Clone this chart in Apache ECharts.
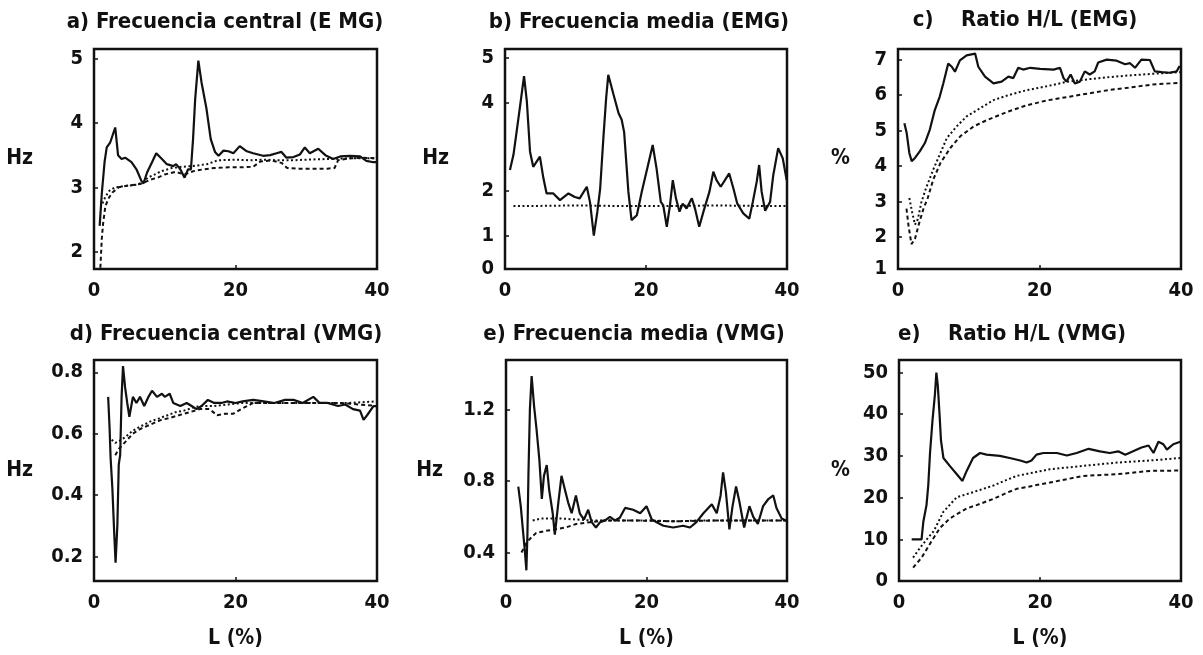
<!DOCTYPE html>
<html><head><meta charset="utf-8">
<script src="https://cdn.jsdelivr.net/npm/echarts@6/dist/echarts.min.js"></script>
<style>html,body{margin:0;padding:0;background:#fff}#c{width:1203px;height:655px}</style>
</head><body><div id="c"></div>
<script>
// ---------- data ----------
const xTicks = [0, 20, 40];

const aYTicks = [2, 3, 4, 5];
const aYLabels = ['2', '3', '4', '5'];
const aSolid = [[0.8,2.4],[1.1,2.9],[1.5,3.4],[1.8,3.62],[2.3,3.7],[3.0,3.93],[3.4,3.5],[3.9,3.44],[4.4,3.46],[5.3,3.39],[6.0,3.28],[6.7,3.1],[7.0,3.06],[7.5,3.23],[8.2,3.39],[8.8,3.53],[9.6,3.44],[10.3,3.36],[11.2,3.33],[11.6,3.36],[12.2,3.28],[12.8,3.15],[13.3,3.28],[13.7,3.28],[14.0,3.75],[14.3,4.37],[14.75,4.97],[15.2,4.63],[15.9,4.22],[16.5,3.75],[17.1,3.55],[17.6,3.49],[18.3,3.57],[19.0,3.56],[19.7,3.53],[20.6,3.64],[21.6,3.56],[22.5,3.53],[23.9,3.49],[24.9,3.5],[25.8,3.53],[26.5,3.55],[27.2,3.46],[28.2,3.47],[29.1,3.51],[29.8,3.62],[30.5,3.53],[31.7,3.6],[32.7,3.5],[33.8,3.44],[34.8,3.48],[36.2,3.49],[37.6,3.48],[38.5,3.41],[39.5,3.39],[40,3.39]];
const aDotted = [[1.2,2.75],[1.6,2.85],[2.2,2.95],[3.0,3.0],[4.5,3.02],[6.0,3.04],[7.0,3.08],[7.6,3.15],[8.6,3.2],[9.5,3.25],[11,3.3],[12.5,3.32],[14,3.33],[16,3.36],[17.5,3.42],[20,3.43],[22,3.42],[24,3.43],[26,3.42],[28,3.42],[30,3.43],[33,3.44],[36,3.45],[40,3.45]];
const aDashed = [[0.9,1.75],[1.1,2.2],[1.3,2.45],[1.6,2.7],[2.0,2.82],[2.6,2.92],[3.5,3.0],[5,3.03],[6.5,3.05],[7.2,3.08],[8,3.12],[9,3.15],[10,3.2],[11.5,3.24],[12.8,3.2],[14,3.25],[15.5,3.28],[17,3.3],[19,3.31],[21,3.31],[22.5,3.32],[23.5,3.4],[25,3.42],[26.5,3.38],[27.3,3.3],[29,3.29],[31,3.29],[33,3.29],[34,3.3],[34.5,3.42],[36,3.45],[38,3.46],[40,3.45]];

const bYTicks = [0.25, 1, 2, 4, 5];
const bYLabels = ['0', '1', '2', '4', '5'];
const bSolid = [[0.7,2.48],[1.2,2.82],[1.65,3.34],[2.1,3.87],[2.7,4.59],[3.1,4.02],[3.55,2.89],[4.0,2.55],[4.95,2.78],[5.45,2.29],[5.9,1.95],[6.85,1.95],[7.8,1.8],[9.0,1.95],[9.9,1.87],[10.6,1.84],[11.6,2.1],[12.05,1.76],[12.6,1.0],[13.1,1.54],[13.5,2.06],[13.95,3.19],[14.35,4.1],[14.65,4.62],[15.4,4.17],[16.1,3.76],[16.55,3.61],[16.9,3.33],[17.5,1.99],[17.95,1.35],[18.7,1.46],[19.4,1.99],[20.35,2.63],[20.95,3.04],[21.5,2.51],[22.1,1.76],[22.45,1.68],[22.95,1.2],[23.4,1.68],[23.8,2.25],[24.25,1.84],[24.75,1.54],[25.2,1.72],[25.75,1.61],[26.5,1.84],[26.95,1.61],[27.55,1.2],[28.15,1.54],[29.0,1.99],[29.55,2.44],[30.0,2.25],[30.6,2.1],[31.2,2.25],[31.8,2.4],[32.4,2.06],[32.95,1.72],[33.8,1.5],[34.65,1.38],[35.15,1.76],[35.7,2.21],[36.05,2.59],[36.4,1.99],[36.9,1.56],[37.6,1.76],[38.05,2.36],[38.75,2.97],[39.4,2.74],[39.95,2.25]];
const bDotted = [[1.2,1.67],[5,1.67],[10,1.68],[15,1.67],[20,1.67],[25,1.67],[30,1.68],[35,1.67],[40,1.67]];
const bDashed = [];

const cYTicks = [1.1, 2, 3, 4, 5, 6, 7];
const cYLabels = ['1', '2', '3', '4', '5', '6', '7'];
const cSolid = [[0.9,5.21],[1.23,4.93],[1.6,4.37],[1.93,4.14],[2.4,4.23],[3.1,4.42],[3.8,4.65],[4.5,5.03],[5.2,5.58],[5.9,5.96],[6.4,6.33],[7.1,6.89],[7.6,6.8],[8.05,6.66],[8.75,6.98],[9.7,7.12],[10.9,7.17],[11.35,6.8],[12.3,6.52],[13.5,6.33],[14.65,6.38],[15.6,6.52],[16.3,6.48],[17.0,6.77],[17.7,6.72],[18.7,6.77],[20.1,6.74],[22.0,6.72],[22.9,6.77],[23.4,6.48],[23.8,6.38],[24.4,6.58],[25.0,6.33],[25.7,6.38],[26.4,6.67],[27.1,6.58],[27.8,6.67],[28.3,6.92],[29.5,7.0],[30.9,6.97],[32.1,6.87],[32.8,6.9],[33.5,6.77],[34.4,7.0],[35.6,6.99],[36.3,6.67],[37.3,6.65],[38.4,6.63],[39.4,6.67],[39.8,6.82]];
const cDotted = [[1.6,3.1],[2.0,2.7],[2.4,2.35],[2.8,2.5],[3.3,2.98],[4.0,3.4],[5.0,3.91],[6.0,4.37],[6.9,4.79],[8.3,5.12],[9.7,5.4],[11.6,5.63],[13.5,5.86],[15.6,6.0],[18,6.13],[21,6.25],[24,6.38],[27,6.45],[30,6.51],[33,6.56],[36,6.6],[40,6.65]];
const cDashed = [[1.2,2.8],[1.5,2.3],[1.9,1.8],[2.4,1.95],[3.0,2.4],[3.6,2.8],[4.2,3.1],[5.0,3.63],[6.0,4.09],[7.4,4.51],[8.8,4.84],[10.7,5.12],[12.6,5.3],[15.6,5.54],[18,5.7],[21,5.85],[24,5.95],[27,6.05],[30,6.15],[33,6.22],[36,6.3],[40,6.35]];

const dYTicks = [0.2, 0.4, 0.6, 0.8];
const dYLabels = ['0.2', '0.4', '0.6', '0.8'];
const dSolid = [[2.0,0.72],[2.2,0.62],[2.35,0.52],[2.6,0.42],[2.85,0.28],[3.05,0.18],[3.3,0.3],[3.5,0.5],[3.7,0.53],[3.9,0.72],[4.1,0.82],[4.4,0.75],[4.7,0.7],[5.0,0.655],[5.5,0.72],[6.0,0.70],[6.5,0.72],[7.1,0.69],[7.7,0.72],[8.2,0.74],[8.9,0.72],[9.6,0.73],[10.0,0.72],[10.7,0.73],[11.2,0.70],[12.2,0.69],[13.1,0.70],[13.8,0.69],[14.5,0.68],[15.2,0.69],[16.1,0.71],[17.0,0.70],[18.0,0.70],[18.8,0.705],[20.0,0.70],[21.0,0.705],[22.5,0.71],[24.0,0.705],[25.5,0.70],[27.0,0.71],[28.2,0.71],[29.5,0.70],[31.0,0.72],[31.9,0.70],[33.0,0.70],[34.5,0.69],[35.5,0.695],[36.6,0.68],[37.6,0.675],[38.1,0.645],[38.6,0.66],[39.5,0.69],[40,0.69]];
const dDotted = [[2.5,0.58],[3.0,0.57],[3.5,0.575],[4.5,0.59],[5.5,0.61],[6.7,0.625],[8.0,0.64],[9.2,0.65],[10.4,0.66],[11.5,0.67],[12.7,0.675],[14,0.685],[15,0.69],[17,0.69],[19,0.695],[21,0.70],[24,0.70],[28,0.70],[32,0.70],[36,0.70],[40,0.705]];
const dDashed = [[3.0,0.53],[3.5,0.55],[4.5,0.575],[5.5,0.6],[6.5,0.615],[8.0,0.63],[9.5,0.645],[10.5,0.65],[12,0.66],[13.5,0.67],[15,0.68],[16.3,0.68],[17.4,0.66],[18.5,0.665],[19.7,0.665],[20.8,0.68],[22.5,0.70],[25,0.70],[30,0.70],[35,0.70],[40,0.69]];

const eYTicks = [0.4, 0.8, 1.2];
const eYLabels = ['0.4', '0.8', '1.2'];
const eSolid = [[1.75,0.77],[2.1,0.66],[2.4,0.53],[2.7,0.40],[2.9,0.3],[3.05,0.5],[3.2,0.85],[3.4,1.2],[3.65,1.39],[4.0,1.22],[4.35,1.09],[4.75,0.92],[5.1,0.70],[5.4,0.83],[5.8,0.89],[6.15,0.75],[6.65,0.62],[6.95,0.5],[7.45,0.68],[7.9,0.83],[8.4,0.75],[8.85,0.68],[9.35,0.62],[9.95,0.72],[10.5,0.62],[11.1,0.585],[11.7,0.64],[12.2,0.57],[12.8,0.54],[13.4,0.57],[14.1,0.58],[14.8,0.60],[15.5,0.58],[16.2,0.595],[16.95,0.65],[18.1,0.64],[19.1,0.62],[20.0,0.66],[20.75,0.585],[21.45,0.57],[22.4,0.55],[23.8,0.54],[25.2,0.55],[26.2,0.54],[27.1,0.57],[28.1,0.62],[29.3,0.67],[30.0,0.62],[30.55,0.72],[30.9,0.85],[31.3,0.74],[31.8,0.53],[32.25,0.66],[32.75,0.77],[33.2,0.69],[33.9,0.54],[34.65,0.66],[35.2,0.6],[35.85,0.56],[36.6,0.66],[37.35,0.70],[38.05,0.72],[38.5,0.65],[39.25,0.59],[39.85,0.58]];
const eDotted = [[3.8,0.58],[5,0.59],[6.5,0.59],[8,0.59],[10,0.585],[12,0.58],[16,0.58],[20,0.58],[24,0.575],[28,0.58],[32,0.58],[36,0.58],[40,0.58]];
const eDashed = [[2.2,0.40],[2.6,0.43],[3.0,0.46],[3.5,0.48],[4.3,0.51],[5.5,0.52],[7,0.53],[8.5,0.54],[10,0.56],[12,0.57],[14,0.58],[18,0.58],[24,0.575],[30,0.58],[40,0.58]];

const fYTicks = [0, 10, 20, 30, 40, 50];
const fYLabels = ['0', '10', '20', '30', '40', '50'];
const fSolid = [[1.8,10],[2.5,10],[3.2,10],[3.45,14.2],[3.9,18.2],[4.15,22.9],[4.4,30.7],[4.75,38.5],[5.1,44.8],[5.3,50],[5.5,47],[5.75,40],[5.95,33.8],[6.3,29.5],[7.2,27.6],[8.2,25.6],[9.0,24.0],[9.6,26.4],[10.5,29.5],[11.5,30.7],[12.4,30.3],[14.3,30],[15.7,29.5],[17.2,28.9],[18.1,28.4],[18.8,28.9],[19.5,30.3],[20.5,30.7],[22.4,30.7],[23.8,30.1],[25.2,30.7],[26.9,31.7],[28.5,31.1],[29.9,30.7],[31.1,31.1],[32.1,30.3],[33.2,31.1],[34.4,32.0],[35.4,32.5],[36.1,30.7],[36.8,33.4],[37.5,32.8],[38.0,31.5],[38.9,32.8],[39.9,33.4]];
const fDotted = [[2.0,5.6],[3.0,8],[3.9,9.9],[4.9,11.9],[6.3,16.6],[8.2,20.1],[10.5,21.3],[13.4,22.9],[15.5,24.4],[16.7,25.2],[21.4,26.8],[26.1,27.6],[30.9,28.4],[35.6,28.9],[39.9,29.5]];
const fDashed = [[2.0,3.2],[3.2,5.6],[4.6,9.5],[5.8,12.7],[7.2,15],[9.6,17.4],[11.0,18.2],[13.4,19.7],[15.5,21.3],[16.7,22.1],[21.4,23.6],[26.1,25.2],[30.9,25.6],[35.6,26.4],[39.9,26.5]];

// ---------- layout ----------
const FONT = '"Liberation Sans Narrow", "DejaVu Sans Condensed", "Arial Narrow", sans-serif';
const INK = '#111';
const panels = [
  {title:'a) Frecuencia central (E MG)', tx:225, ty:22, box:[94,49,283,220], yMin:1.73, yMax:5.15, ticks:aYTicks, labels:aYLabels, yName:'Hz', gap:61, xName:'', data:[aSolid,aDotted,aDashed]},
  {title:'b) Frecuencia media (EMG)', tx:639, ty:22, box:[505,49,282,220], yMin:0.25, yMax:5.2, ticks:bYTicks, labels:bYLabels, yName:'Hz', gap:56, xName:'', data:[bSolid,bDotted,bDashed]},
  {title:'c)    Ratio H/L (EMG)', tx:1025, ty:20, box:[898,49,283,220], yMin:1.1, yMax:7.3, ticks:cYTicks, labels:cYLabels, yName:'%', gap:48, xName:'', data:[cSolid,cDotted,cDashed]},
  {title:'d) Frecuencia central (VMG)', tx:226, ty:334, box:[94,360,283,221], yMin:0.12, yMax:0.84, ticks:dYTicks, labels:dYLabels, yName:'Hz', gap:61, xName:'L (%)', data:[dSolid,dDotted,dDashed]},
  {title:'e) Frecuencia media (VMG)', tx:634, ty:334, box:[506,360,281,221], yMin:0.24, yMax:1.48, ticks:eYTicks, labels:eYLabels, yName:'Hz', gap:63, xName:'L (%)', data:[eSolid,eDotted,eDashed]},
  {title:'e)    Ratio H/L (VMG)', tx:1012, ty:334, box:[899,360,282,221], yMin:0, yMax:53, ticks:fYTicks, labels:fYLabels, yName:'%', gap:49, xName:'L (%)', data:[fSolid,fDotted,fDashed]}
];
const lineStyles = [
  {color:INK, width:2.2, type:'solid'},
  {color:INK, width:2, type:[2,2.5]},
  {color:INK, width:2, type:[4,3]}
];

const grid = [], xAxis = [], yAxis = [], series = [], graphic = [];
panels.forEach((p, i) => {
  grid.push({left:p.box[0], top:p.box[1], width:p.box[2], height:p.box[3], show:true,
    borderColor:INK, borderWidth:2.5, backgroundColor:'#fff', containLabel:false});
  xAxis.push({type:'value', gridIndex:i, min:0, max:40, interval:20,
    axisLine:{show:false}, splitLine:{show:false},
    axisTick:{show:true, inside:true, length:4, lineStyle:{color:INK, width:1.5}},
    axisLabel:{margin:12, color:INK, fontFamily:FONT, fontWeight:'bold', fontSize:20,
      customValues:xTicks},
    name:p.xName, nameLocation:'middle', nameGap:47,
    nameTextStyle:{color:INK, fontFamily:FONT, fontWeight:'bold', fontSize:21}});
  const ticks = p.ticks, labels = p.labels;
  yAxis.push({type:'value', gridIndex:i, min:p.yMin, max:p.yMax,
    axisLine:{show:false}, splitLine:{show:false},
    axisTick:{show:true, inside:true, length:4, customValues:ticks, lineStyle:{color:INK, width:1.5}},
    axisLabel:{margin:11, color:INK, fontFamily:FONT, fontWeight:'bold', fontSize:20,
      customValues:ticks,
      formatter:(v) => { const k = ticks.findIndex(t => Math.abs(t - v) < 1e-6); return k >= 0 ? labels[k] : ''; }},
    name:p.yName, nameLocation:'middle', nameRotate:0, nameGap:p.gap,
    nameTextStyle:{color:INK, fontFamily:FONT, fontWeight:'bold', fontSize:21}});
  p.data.forEach((d, k) => {
    if (!d.length) return;
    series.push({type:'line', xAxisIndex:i, yAxisIndex:i, data:d, showSymbol:false,
      symbol:'none', silent:true, clip:true, z:3 - k, lineStyle:lineStyles[k]});
  });
  graphic.push({type:'text', x:p.tx, y:p.ty, silent:true,
    style:{text:p.title, fill:INK, fontFamily:FONT, fontWeight:'bold', fontSize:22,
      align:'center', verticalAlign:'middle'}});
});

const chart = echarts.init(document.getElementById('c'), null, {renderer:'canvas'});
chart.setOption({animation:false, backgroundColor:'#fff', grid, xAxis, yAxis, series, graphic});
</script>
</body></html>
